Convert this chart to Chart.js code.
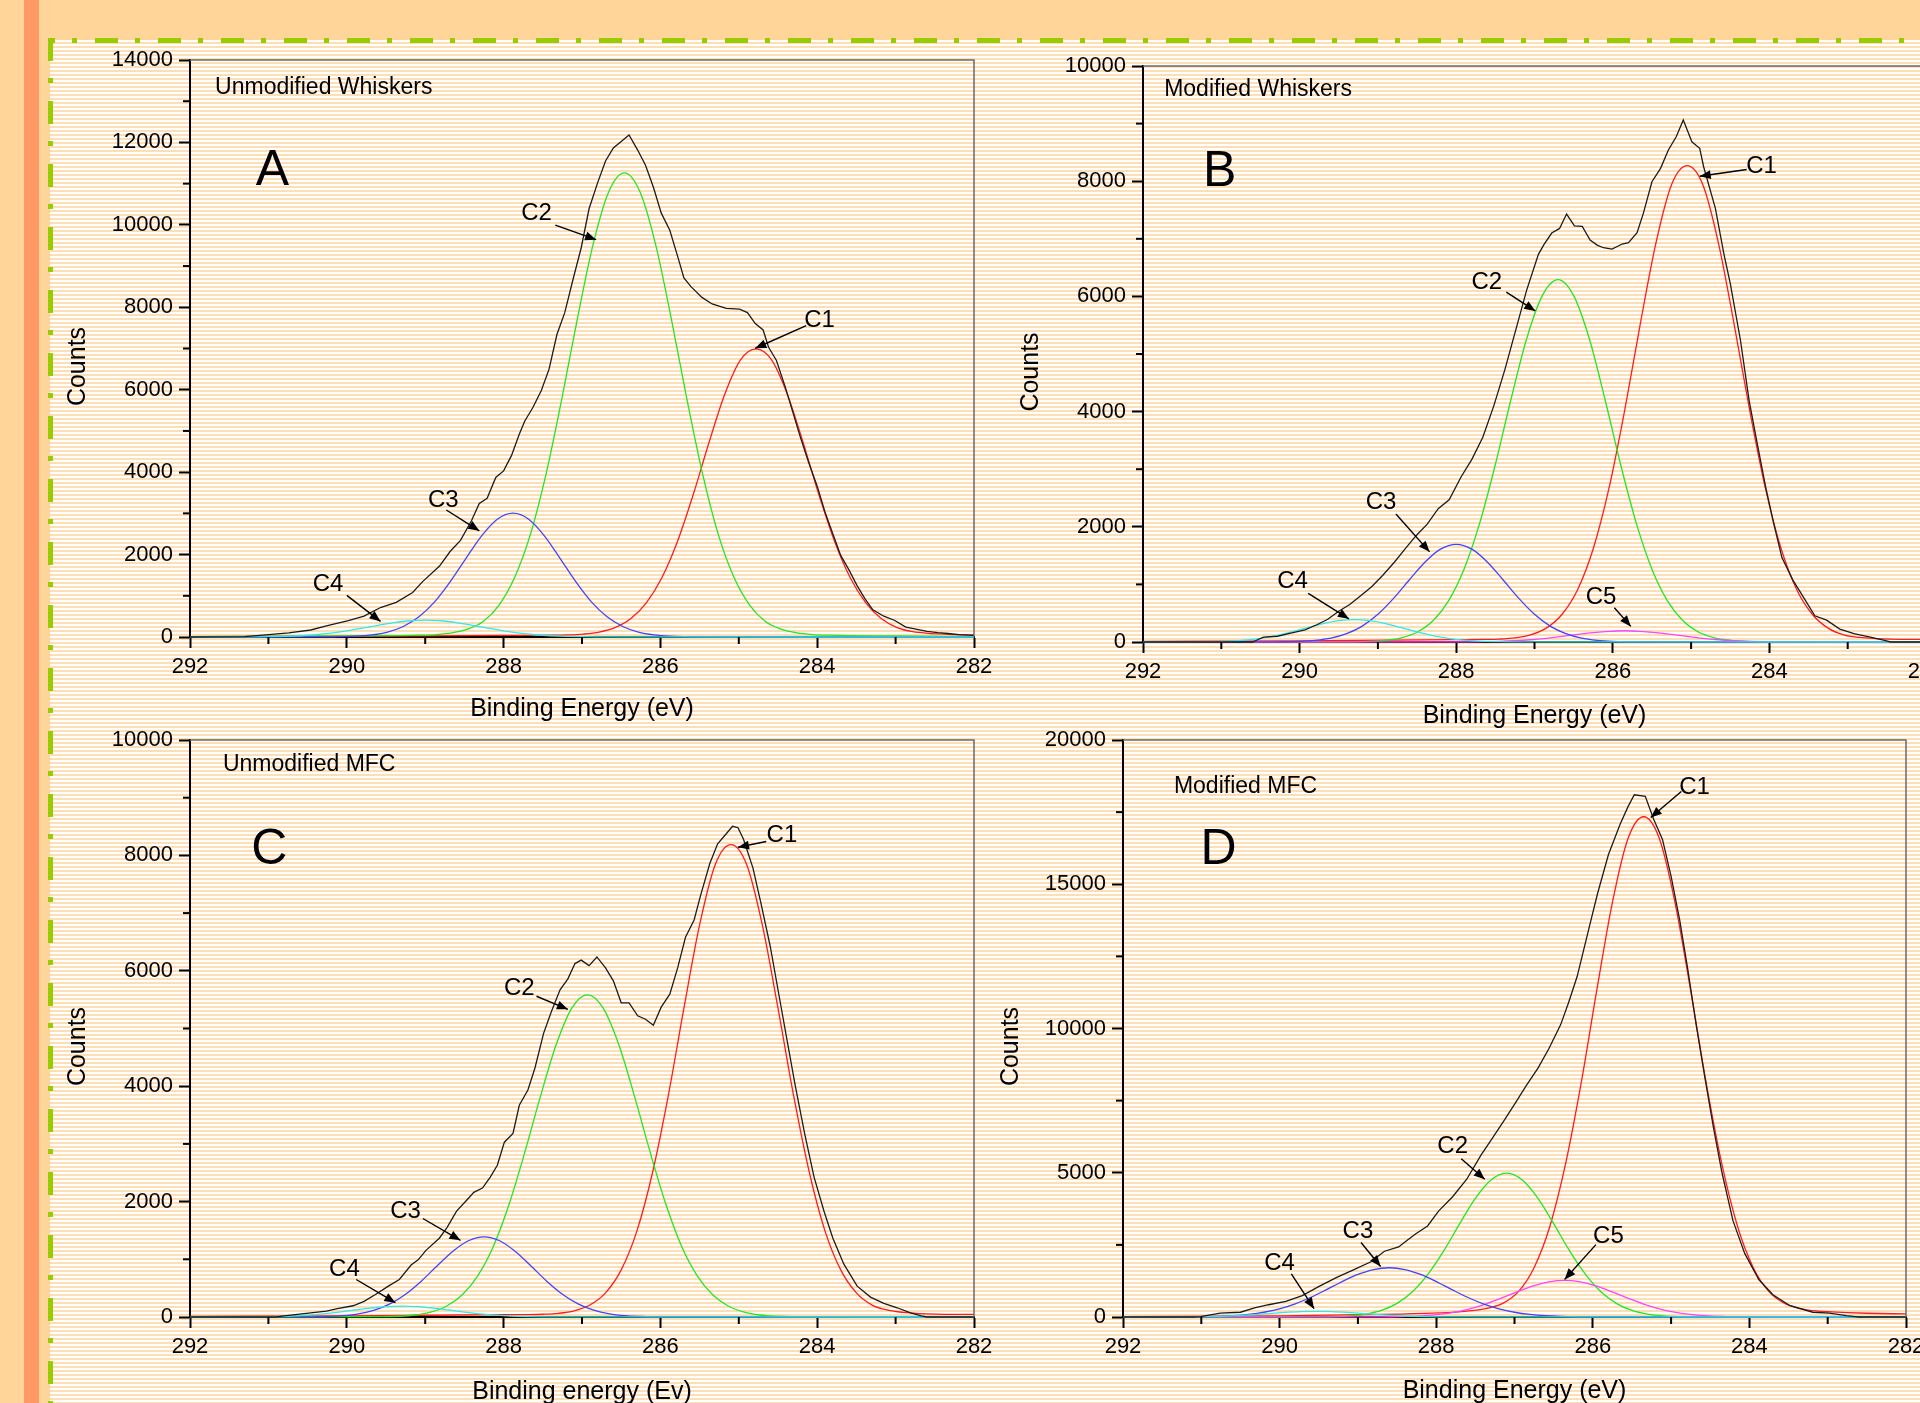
<!DOCTYPE html>
<html><head><meta charset="utf-8">
<script src="https://cdn.jsdelivr.net/npm/chart.js"></script>
<style>
html,body{margin:0;padding:0;width:1920px;height:1403px;overflow:hidden;background:#FFD599;position:relative;}
#stripe{position:absolute;left:24px;top:0;width:15px;height:1403px;background:#FF9966;}
#sheet{position:absolute;left:50px;top:40px;width:1870px;height:1363px;background:repeating-linear-gradient(to bottom,#ffffff 0px,#ffffff 2px,#FDDFB6 2px,#FDDFB6 4px);}
svg{position:absolute;left:0;top:0;}
canvas{position:absolute;}
</style></head><body>
<div id="stripe"></div><div id="sheet"></div>
<svg width="1920" height="1403">
<line x1="48" y1="40.5" x2="1920" y2="40.5" stroke="#99CC00" stroke-width="5" stroke-dasharray="23 17 5 18" stroke-dashoffset="16"/>
<line x1="50.5" y1="38" x2="50.5" y2="1403" stroke="#99CC00" stroke-width="5" stroke-dasharray="23 17 5 18" stroke-dashoffset="0"/>
</svg>
<script>
// ---------------- DATA ----------------
const xTickValues = [292, 290, 288, 286, 284, 282];
const A_yTicks = [0, 2000, 4000, 6000, 8000, 10000, 12000, 14000];
const B_yTicks = [0, 2000, 4000, 6000, 8000, 10000];
const C_yTicks = [0, 2000, 4000, 6000, 8000, 10000];
const D_yTicks = [0, 5000, 10000, 15000, 20000];

// Panel A: Unmodified Whiskers  [binding energy eV, counts]
const A_envelope = [[292,0],[291.3,10],[291.0,60],[290.74,100],[290.46,170],[290.26,270],[289.98,400],[289.78,505],[289.57,715],[289.37,840],[289.16,1080],[289.03,1350],[288.82,1715],[288.68,2080],[288.55,2345],[288.41,2820],[288.31,3240],[288.21,3365],[288.10,3870],[288.0,4030],[287.9,4400],[287.8,4920],[287.73,5240],[287.63,5555],[287.52,5975],[287.42,6500],[287.32,7340],[287.22,7870],[287.11,8710],[287.01,9445],[286.91,10390],[286.8,11025],[286.7,11550],[286.6,11865],[286.5,12025],[286.4,12180],[286.29,11815],[286.19,11445],[286.09,10920],[285.99,10290],[285.88,9870],[285.78,9235],[285.7,8710],[285.61,8500],[285.47,8240],[285.34,8080],[285.16,7975],[284.99,7955],[284.89,7870],[284.79,7605],[284.69,7450],[284.62,7030],[284.52,6710],[284.41,6080],[284.31,5450],[284.21,4820],[284.11,4240],[284.0,3660],[283.9,3030],[283.8,2500],[283.7,1980],[283.59,1610],[283.49,1240],[283.39,925],[283.29,660],[283.15,505],[283.01,400],[282.87,240],[282.74,190],[282.6,135],[282.46,105],[282.33,85],[282.19,60],[282.0,40]];
const A_C1 = [[292,10],[290,20],[288,40],[287.38,44],[287.18,51],[286.98,72],[286.78,121],[286.58,229],[286.38,444],[286.18,829],[285.98,1444],[285.78,2331],[285.58,3463],[285.38,4720],[285.18,5886],[284.98,6718],[284.78,6990],[284.58,6718],[284.38,5886],[284.18,4720],[283.98,3463],[283.78,2331],[283.58,1444],[283.38,829],[283.18,444],[282.98,229],[282.78,130],[282.58,90],[282.38,70],[282.18,55],[282,50]];
const A_C2 = [[292,8],[290,25],[289.06,45],[288.86,60],[288.66,100],[288.46,190],[288.26,375],[288.06,766],[287.86,1441],[287.66,2477],[287.46,3941],[287.26,5754],[287.06,7713],[286.86,9515],[286.66,10798],[286.46,11260],[286.26,10798],[286.06,9515],[285.86,7713],[285.66,5754],[285.46,3941],[285.26,2477],[285.06,1441],[284.86,766],[284.66,375],[284.46,190],[284.26,100],[284.06,60],[283.86,45],[283,25],[282,10]];
const A_C3 = [[292,0],[290.28,2],[290.08,7],[289.88,19],[289.68,51],[289.48,119],[289.28,255],[289.08,490],[288.88,853],[288.68,1343],[288.48,1908],[288.28,2455],[288.08,2858],[287.88,3005],[287.68,2858],[287.48,2455],[287.28,1908],[287.08,1343],[286.88,853],[286.68,490],[286.48,255],[286.28,119],[286.08,51],[285.88,19],[285.68,7],[285.48,2],[282,0]];
const A_C4 = [[292,0],[291.4,1],[291.2,3],[291.0,7],[290.8,15],[290.6,30],[290.4,55],[290.2,94],[290.0,148],[289.8,213],[289.6,284],[289.4,348],[289.2,394],[289.0,410],[288.8,394],[288.6,348],[288.4,284],[288.2,213],[288.0,148],[287.8,94],[287.6,55],[287.4,30],[287.2,15],[287.0,7],[286.8,3],[286.6,1],[282,0]];

// Panel B: Modified Whiskers
const B_envelope = [[292,0],[290.6,0],[290.55,30],[290.46,85],[290.28,100],[290.14,147],[289.93,210],[289.78,300],[289.64,395],[289.50,535],[289.36,650],[289.22,805],[289.08,960],[288.94,1155],[288.79,1385],[288.65,1620],[288.51,1850],[288.37,2045],[288.23,2315],[288.09,2470],[287.94,2860],[287.80,3170],[287.66,3555],[287.52,4100],[287.38,4720],[287.24,5415],[287.10,6110],[286.95,6730],[286.88,6900],[286.78,7100],[286.68,7180],[286.59,7430],[286.49,7225],[286.39,7215],[286.29,6980],[286.20,6890],[286.12,6845],[286.01,6822],[285.88,6909],[285.80,6932],[285.69,7106],[285.61,7442],[285.50,7991],[285.39,8223],[285.29,8541],[285.19,8772],[285.10,9062],[284.99,8685],[284.89,8570],[284.84,8251],[284.69,7529],[284.58,6730],[284.50,6227],[284.37,5243],[284.26,4201],[284.16,3480],[284.05,2705],[283.95,2085],[283.84,1465],[283.70,1075],[283.56,765],[283.42,455],[283.27,380],[283.10,225],[282.92,147],[282.71,85],[282.53,30],[282.45,0],[282,0]];
const B_C1 = [[292,10],[290,20],[288,40],[287.65,44],[287.45,51],[287.25,72],[287.05,124],[286.85,241],[286.65,478],[286.45,908],[286.25,1620],[286.05,2662],[285.85,4010],[285.65,5515],[285.45,6921],[285.25,7938],[285.05,8270],[284.85,7938],[284.65,6921],[284.45,5515],[284.25,4010],[284.05,2662],[283.85,1620],[283.65,908],[283.45,478],[283.25,241],[283.05,124],[282.85,80],[282.65,60],[282.45,50],[282,45]];
const B_C2 = [[292,0],[289.30,3],[289.10,10],[288.90,29],[288.70,73],[288.50,170],[288.30,364],[288.10,711],[287.90,1264],[287.70,2063],[287.50,3082],[287.30,4214],[287.10,5265],[286.90,6013],[286.70,6290],[286.50,6013],[286.30,5265],[286.10,4214],[285.90,3082],[285.70,2063],[285.50,1264],[285.30,711],[285.10,364],[284.90,170],[284.70,73],[284.50,29],[284.30,10],[284.10,3],[282,0]];
const B_C3 = [[292,0],[290.4,1],[290.2,4],[290.0,11],[289.8,29],[289.6,67],[289.4,144],[289.2,276],[289.0,482],[288.8,758],[288.6,1077],[288.4,1386],[288.2,1613],[288.0,1696],[287.8,1613],[287.6,1386],[287.4,1077],[287.2,758],[287.0,482],[286.8,276],[286.6,144],[286.4,67],[286.2,29],[286.0,11],[285.8,4],[285.6,1],[282,0]];
const B_C4 = [[292,0],[291.5,1],[291.3,3],[291.1,7],[290.9,15],[290.7,33],[290.5,64],[290.3,111],[290.1,174],[289.9,248],[289.7,319],[289.5,371],[289.3,390],[289.1,371],[288.9,319],[288.7,248],[288.5,174],[288.3,111],[288.1,64],[287.9,33],[287.7,15],[287.5,7],[287.3,3],[287.1,1],[282,0]];
const B_C5 = [[292,0],[288.05,1],[287.85,2],[287.65,5],[287.45,11],[287.25,22],[287.05,39],[286.85,64],[286.65,96],[286.45,131],[286.25,163],[286.05,186],[285.85,195],[285.65,186],[285.45,163],[285.25,131],[285.05,96],[284.85,64],[284.65,39],[284.45,22],[284.25,11],[284.05,5],[283.85,2],[283.65,1],[282,0]];

// Panel C: Unmodified MFC
const C_envelope = [[292,0],[290.9,0],[290.8,20],[290.46,70],[290.26,100],[290.12,145],[289.92,195],[289.78,270],[289.64,385],[289.47,535],[289.33,650],[289.18,900],[289.09,990],[288.99,1155],[288.82,1365],[288.72,1555],[288.60,1835],[288.48,2010],[288.38,2160],[288.27,2235],[288.17,2425],[288.08,2630],[287.99,3030],[287.88,3180],[287.80,3670],[287.69,3935],[287.60,4315],[287.49,4915],[287.39,5295],[287.28,5670],[287.18,5860],[287.09,6125],[287.01,6185],[286.91,6090],[286.81,6240],[286.70,6050],[286.60,5825],[286.50,5445],[286.40,5445],[286.29,5220],[286.19,5160],[286.09,5055],[285.99,5370],[285.88,5595],[285.78,6050],[285.68,6580],[285.57,6880],[285.49,7295],[285.37,7860],[285.27,8200],[285.16,8375],[285.08,8505],[285.01,8480],[284.94,8280],[284.82,7785],[284.72,7185],[284.60,6430],[284.48,5520],[284.38,4765],[284.28,4010],[284.16,3180],[284.04,2425],[283.91,1820],[283.80,1365],[283.66,915],[283.49,535],[283.32,345],[283.15,235],[282.98,160],[282.81,70],[282.67,20],[282.6,0],[282,0]];
const C_C1 = [[292,10],[290,20],[288,40],[287.7,42],[287.5,48],[287.3,64],[287.1,107],[286.9,207],[286.7,417],[286.5,816],[286.3,1489],[286.1,2504],[285.9,3831],[285.7,5353],[285.5,6794],[285.3,7842],[285.1,8187],[284.9,7842],[284.7,6794],[284.5,5353],[284.3,3831],[284.1,2504],[283.9,1489],[283.7,816],[283.5,417],[283.3,207],[283.1,120],[282.9,80],[282.7,60],[282.5,50],[282,45]];
const C_C2 = [[292,0],[289.53,5],[289.33,13],[289.13,35],[288.93,84],[288.73,186],[288.53,380],[288.33,714],[288.13,1228],[287.93,1954],[287.73,2852],[287.53,3824],[287.33,4717],[287.13,5353],[286.93,5582],[286.73,5353],[286.53,4717],[286.33,3824],[286.13,2852],[285.93,1954],[285.73,1228],[285.53,714],[285.33,380],[285.13,186],[284.93,84],[284.73,35],[284.53,13],[284.33,5],[282,0]];
const C_C3 = [[292,0],[290.65,1],[290.45,3],[290.25,9],[290.05,23],[289.85,55],[289.65,118],[289.45,227],[289.25,395],[289.05,621],[288.85,883],[288.65,1136],[288.45,1322],[288.25,1390],[288.05,1322],[287.85,1136],[287.65,883],[287.45,621],[287.25,395],[287.05,227],[286.85,118],[286.65,55],[286.45,23],[286.25,9],[286.05,3],[285.85,1],[282,0]];
const C_C4 = [[292,0],[291.3,1],[291.1,3],[290.9,8],[290.7,16],[290.5,31],[290.3,54],[290.1,85],[289.9,121],[289.7,155],[289.5,181],[289.3,190],[289.1,181],[288.9,155],[288.7,121],[288.5,85],[288.3,54],[288.1,31],[287.9,16],[287.7,8],[287.5,3],[287.3,1],[282,0]];

// Panel D: Modified MFC
const D_envelope = [[292,0],[291.1,0],[291.01,15],[290.76,135],[290.50,165],[290.32,315],[290.14,425],[289.92,545],[289.71,740],[289.49,1070],[289.27,1375],[289.05,1645],[288.84,1905],[288.66,2280],[288.48,2430],[288.37,2660],[288.26,2885],[288.11,3155],[287.97,3670],[287.79,4170],[287.61,4775],[287.43,5605],[287.28,6210],[287.14,6780],[286.99,7415],[286.85,8020],[286.70,8625],[286.56,9305],[286.41,10135],[286.31,10890],[286.20,11800],[286.05,13460],[285.94,14670],[285.80,16030],[285.65,17085],[285.55,17690],[285.47,18100],[285.33,18050],[285.22,17235],[285.11,16555],[285.00,15270],[284.89,13760],[284.79,12100],[284.68,10135],[284.57,8325],[284.46,6585],[284.35,5000],[284.21,3340],[284.06,2205],[283.88,1300],[283.70,770],[283.48,390],[283.19,165],[282.98,135],[282.76,45],[282.65,15],[282.6,0],[282,0]];
const D_C1 = [[292,15],[290,40],[288.5,100],[287.95,140],[287.75,170],[287.55,220],[287.35,300],[287.15,470],[286.95,880],[286.75,1710],[286.55,3129],[286.35,5279],[286.15,8088],[285.95,11314],[285.75,14366],[285.55,16585],[285.35,17340],[285.15,16585],[284.95,14366],[284.75,11314],[284.55,8088],[284.35,5279],[284.15,3129],[283.95,1710],[283.75,880],[283.55,470],[283.35,290],[283.15,210],[282.95,175],[282.75,150],[282.5,130],[282,105]];
const D_C2 = [[292,0],[289.7,1],[289.5,5],[289.3,15],[289.1,41],[288.9,102],[288.7,229],[288.5,473],[288.3,882],[288.1,1500],[287.9,2308],[287.7,3235],[287.5,4113],[287.3,4751],[287.1,4985],[286.9,4751],[286.7,4113],[286.5,3235],[286.3,2308],[286.1,1500],[285.9,882],[285.7,473],[285.5,229],[285.3,102],[285.1,41],[284.9,15],[284.7,5],[284.5,1],[282,0]];
const D_C3 = [[292,0],[291.2,4],[291.0,9],[290.8,20],[290.6,44],[290.4,89],[290.2,165],[290.0,285],[289.8,457],[289.6,685],[289.4,951],[289.2,1229],[289.0,1475],[288.8,1646],[288.6,1707],[288.4,1646],[288.2,1475],[288.0,1229],[287.8,951],[287.6,685],[287.4,457],[287.2,285],[287.0,165],[286.8,89],[286.6,44],[286.4,20],[286.2,9],[286.0,4],[282,0]];
const D_C4 = [[292,0],[291.53,1],[291.33,2],[291.13,6],[290.93,13],[290.73,26],[290.53,49],[290.33,81],[290.13,119],[289.93,157],[289.73,185],[289.53,196],[289.33,185],[289.13,157],[288.93,119],[288.73,81],[288.53,49],[288.33,26],[288.13,13],[287.93,6],[287.73,2],[287.53,1],[282,0]];
const D_C5 = [[292,0],[288.96,1],[288.76,4],[288.56,9],[288.36,21],[288.16,47],[287.96,93],[287.76,171],[287.56,292],[287.36,458],[287.16,660],[286.96,879],[286.76,1077],[286.56,1218],[286.36,1269],[286.16,1218],[285.96,1077],[285.76,879],[285.56,660],[285.36,458],[285.16,292],[284.96,171],[284.76,93],[284.56,47],[284.36,21],[284.16,9],[283.96,4],[283.76,1],[282,0]];

// Annotations: label centre (eV, counts) and arrow from -> to (eV, counts)
const A_annot = [
  {t:'C1', lx:283.97, ly:7680, fx:284.14, fy:7553, tx:284.79, ty:7006},
  {t:'C2', lx:287.58, ly:10290, fx:287.34, fy:9995, tx:286.82, ty:9640},
  {t:'C3', lx:288.77, ly:3324, fx:288.73, fy:3082, tx:288.31, ty:2577},
  {t:'C4', lx:290.24, ly:1273, fx:290.0, fy:1010, tx:289.57, ty:379}];
const B_annot = [
  {t:'C1', lx:284.10, ly:8265, fx:284.29, fy:8203, tx:284.89, ty:8087},
  {t:'C2', lx:287.61, ly:6243, fx:287.36, fy:6073, tx:286.99, ty:5748},
  {t:'C3', lx:288.96, ly:2417, fx:288.77, fy:2223, tx:288.34, ty:1565},
  {t:'C4', lx:290.09, ly:1061, fx:289.89, fy:844, tx:289.37, ty:403},
  {t:'C5', lx:286.15, ly:782, fx:285.98, fy:596, tx:285.77, ty:271}];
const C_annot = [
  {t:'C1', lx:284.45, ly:8354, fx:284.65, fy:8240, tx:285.01, ty:8142},
  {t:'C2', lx:287.80, ly:5687, fx:287.58, fy:5559, tx:287.18, ty:5332},
  {t:'C3', lx:289.25, ly:1835, fx:289.03, fy:1707, tx:288.55, ty:1329},
  {t:'C4', lx:290.03, ly:823, fx:289.88, fy:650, tx:289.38, ty:249}];
const D_annot = [
  {t:'C1', lx:284.70, ly:18370, fx:284.87, fy:18218, tx:285.26, ty:17311},
  {t:'C2', lx:287.79, ly:5906, fx:287.68, fy:5483, tx:287.38, ty:4773},
  {t:'C3', lx:289.0, ly:2961, fx:288.96, fy:2583, tx:288.71, ty:1752},
  {t:'C4', lx:290.0, ly:1858, fx:289.85, fy:1495, tx:289.56, ty:287},
  {t:'C5', lx:285.80, ly:2810, fx:285.96, fy:2508, tx:286.36, ty:1299}];

// ---------------- RENDER ----------------
const FONT = '"Liberation Sans", Arial, Helvetica, sans-serif';
Chart.defaults.font.family = FONT;
Chart.defaults.color = '#000';
const COL = {env:'#1c1c1c', C1:'#FF1C1C', C2:'#22E622', C3:'#4343FF', C4:'#33E8E8', C5:'#FF44FF'};

const panels = [
  {key:'A', area:{l:190,t:60,r:974,b:637}, xTitle:'Binding Energy (eV)', xTitleY:709, yTicks:A_yTicks,
   title:'Unmodified Whiskers', titleAt:[291.68,13340], letterAt:[290.95,11310], annot:A_annot,
   series:[[A_envelope,'env'],[A_C4,'C4'],[A_C3,'C3'],[A_C2,'C2'],[A_C1,'C1']]},
  {key:'B', area:{l:1143,t:66,r:1926,b:642}, xTitle:'Binding Energy (eV)', xTitleY:716, yTicks:B_yTicks,
   title:'Modified Whiskers', titleAt:[291.73,9597], letterAt:[291.02,8149], annot:B_annot,
   series:[[B_envelope,'env'],[B_C4,'C4'],[B_C3,'C3'],[B_C5,'C5'],[B_C2,'C2'],[B_C1,'C1']]},
  {key:'C', area:{l:190,t:740,r:974,b:1317}, xTitle:'Binding energy (Ev)', xTitleY:1392, yTicks:C_yTicks,
   title:'Unmodified MFC', titleAt:[291.58,9577], letterAt:[290.99,8089], annot:C_annot,
   series:[[C_envelope,'env'],[C_C4,'C4'],[C_C3,'C3'],[C_C2,'C2'],[C_C1,'C1']]},
  {key:'D', area:{l:1123,t:740,r:1906,b:1317}, xTitle:'Binding Energy (eV)', xTitleY:1391, yTicks:D_yTicks,
   title:'Modified MFC', titleAt:[291.35,18370], letterAt:[290.78,16178], annot:D_annot,
   series:[[D_envelope,'env'],[D_C4,'C4'],[D_C3,'C3'],[D_C5,'C5'],[D_C2,'C2'],[D_C1,'C1']]}
];

function drawArrow(ctx, x1, y1, x2, y2) {
  ctx.beginPath(); ctx.moveTo(x1, y1); ctx.lineTo(x2, y2); ctx.stroke();
  const a = Math.atan2(y2 - y1, x2 - x1), L = 11, W = 4.5;
  ctx.beginPath(); ctx.moveTo(x2, y2);
  ctx.lineTo(x2 - L*Math.cos(a) + W*Math.sin(a), y2 - L*Math.sin(a) - W*Math.cos(a));
  ctx.lineTo(x2 - L*Math.cos(a) - W*Math.sin(a), y2 - L*Math.sin(a) + W*Math.cos(a));
  ctx.closePath(); ctx.fill();
}

function decorPlugin(p) {
  return {
    id: 'decor' + p.key,
    afterDraw(chart) {
      const {ctx, chartArea: a, scales: {x, y}} = chart;
      ctx.save();
      // top / right frame
      ctx.strokeStyle = '#6a6a6a'; ctx.lineWidth = 1.5;
      ctx.beginPath(); ctx.moveTo(a.left, a.top); ctx.lineTo(a.right, a.top); ctx.lineTo(a.right, a.bottom); ctx.stroke();
      // minor ticks
      ctx.strokeStyle = '#000'; ctx.lineWidth = 2;
      for (let i = 0; i < xTickValues.length - 1; i++) {
        const v = (xTickValues[i] + xTickValues[i+1]) / 2, px = x.getPixelForValue(v);
        ctx.beginPath(); ctx.moveTo(px, a.bottom); ctx.lineTo(px, a.bottom + 7); ctx.stroke();
      }
      for (let i = 0; i < p.yTicks.length - 1; i++) {
        const v = (p.yTicks[i] + p.yTicks[i+1]) / 2, py = y.getPixelForValue(v);
        ctx.beginPath(); ctx.moveTo(a.left - 7, py); ctx.lineTo(a.left, py); ctx.stroke();
      }
      // y axis title
      ctx.fillStyle = '#000';
      ctx.font = '25px ' + FONT; ctx.textAlign = 'center'; ctx.textBaseline = 'middle';
      ctx.save(); ctx.translate(a.left - 112, (a.top + a.bottom) / 2 + 18); ctx.rotate(-Math.PI / 2);
      ctx.fillText('Counts', 0, 0); ctx.restore();
      // panel title
      ctx.font = '23px ' + FONT; ctx.textAlign = 'left';
      ctx.fillText(p.title, x.getPixelForValue(p.titleAt[0]), y.getPixelForValue(p.titleAt[1]));
      // big letter
      ctx.font = '50px ' + FONT; ctx.textAlign = 'center';
      ctx.fillText(p.key, x.getPixelForValue(p.letterAt[0]), y.getPixelForValue(p.letterAt[1]));
      // annotations
      ctx.font = '24px ' + FONT; ctx.lineWidth = 1.4; ctx.strokeStyle = '#000';
      for (const n of p.annot) {
        ctx.fillText(n.t, x.getPixelForValue(n.lx), y.getPixelForValue(n.ly));
        drawArrow(ctx, x.getPixelForValue(n.fx), y.getPixelForValue(n.fy), x.getPixelForValue(n.tx), y.getPixelForValue(n.ty));
      }
      ctx.restore();
    }
  };
}

const PADL = 160, PADT = 30, PADR = 40, PADB = 140, XH = 100;
for (const p of panels) {
  const cv = document.createElement('canvas');
  const w = (p.area.r - p.area.l) + PADL + PADR, h = (p.area.b - p.area.t) + PADT + PADB;
  cv.width = w; cv.height = h;
  cv.style.left = (p.area.l - PADL) + 'px'; cv.style.top = (p.area.t - PADT) + 'px';
  cv.style.width = w + 'px'; cv.style.height = h + 'px';
  document.body.appendChild(cv);
  const titlePadBottom = p.area.b + XH - 15 - p.xTitleY;
  const datasets = p.series.map(([pts, c]) => ({
    data: pts.map(q => ({x: q[0], y: q[1]})),
    borderColor: COL[c], borderWidth: 1.3,
    pointRadius: 0, fill: false, clip: false,
    tension: 0, cubicInterpolationMode: c === 'env' ? 'default' : 'monotone'
  }));
  new Chart(cv, {
    type: 'line',
    data: {datasets},
    options: {
      responsive: false, animation: false, devicePixelRatio: 1,
      layout: {padding: {left: 0, top: PADT, right: PADR, bottom: PADB - XH}},
      plugins: {legend: {display: false}, tooltip: {enabled: false}},
      scales: {
        x: {
          type: 'linear', reverse: true, min: Math.min(...xTickValues), max: Math.max(...xTickValues),
          afterBuildTicks: s => { s.ticks = xTickValues.map(v => ({value: v})); },
          afterFit: s => { s.height = XH; },
          grid: {drawOnChartArea: false, drawTicks: true, tickLength: 11, tickWidth: 2, tickColor: '#000'},
          border: {display: true, color: '#000', width: 2},
          ticks: {font: {size: 22}, color: '#000', padding: 6, maxRotation: 0, autoSkip: false, callback: v => String(v)},
          title: {display: true, text: p.xTitle, font: {size: 25}, color: '#000', padding: {top: 0, bottom: titlePadBottom}}
        },
        y: {
          type: 'linear', min: Math.min(...p.yTicks), max: Math.max(...p.yTicks),
          afterBuildTicks: s => { s.ticks = p.yTicks.map(v => ({value: v})); },
          afterFit: s => { s.width = PADL; },
          grid: {drawOnChartArea: false, drawTicks: true, tickLength: 11, tickWidth: 2, tickColor: '#000'},
          border: {display: true, color: '#000', width: 2},
          ticks: {font: {size: 22}, color: '#000', padding: 6, autoSkip: false, callback: v => String(v)}
        }
      }
    },
    plugins: [decorPlugin(p)]
  });
}
</script></body></html>
